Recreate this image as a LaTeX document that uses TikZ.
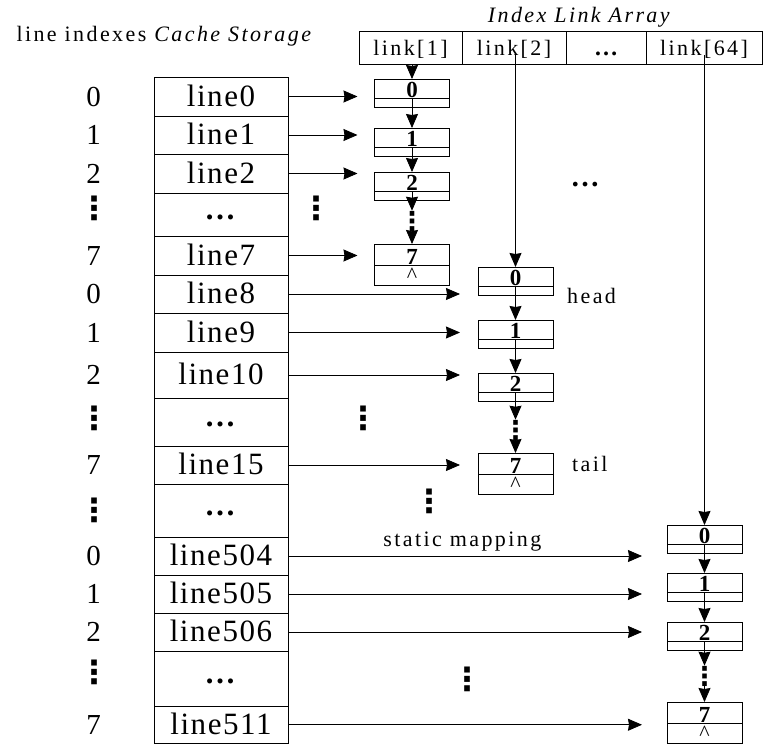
\documentclass[tikz,border=0pt]{standalone}
\usepackage{fontspec}
\setmainfont{Liberation Serif}
\newfontfamily\wide[LetterSpace=11]{Liberation Serif}
\newfontfamily\semi[LetterSpace=5]{Liberation Serif}
\newfontfamily\dvs{DejaVu Sans}
\usetikzlibrary{arrows.meta, positioning}

\newcommand{\vdts}{{\dvs\bfseries ⋮}}
\newcommand{\hdts}{\textbf{…}}

\begin{document}
\begin{tikzpicture}[
    x=1pt, y=-1pt,
    cacherow/.style={
        draw,
        line width=0.8pt,
        minimum width=134,
        minimum height=#1,
        inner sep=0pt,
        outer sep=0pt,
        text height=22pt,
        text depth=3pt,
        font=\fontsize{31}{33}\semi
    },
    idx/.style={inner sep=0pt, text height=22pt, text depth=3pt, font=\fontsize{29}{31}\selectfont},
    linkcell/.style={
        draw,
        line width=0.8pt,
        minimum width=#1,
        minimum height=33,
        inner sep=0pt,
        outer sep=0pt,
        text height=17pt,
        text depth=2pt,
        font=\fontsize{22}{24}\wide
    },
    elem/.style={
        draw,
        line width=0.8pt,
        minimum width=75,
        minimum height=19,
        inner sep=0pt,
        outer sep=0pt,
        text height=17pt,
        text depth=0pt,
        font=\fontsize{23}{24}\selectfont\bfseries
    },
    tailtop/.style={elem, minimum height=21, text height=19pt},
    nxt/.style={draw, line width=0.8pt, minimum width=75, minimum height=9.5, inner sep=0pt, outer sep=0pt},
    nil/.style={nxt, minimum height=20, font=\fontsize{22}{22}\selectfont},
    vdot/.style={inner sep=0pt, font=\fontsize{32}{32}\selectfont},
    vdotsm/.style={inner sep=0pt, font=\fontsize{26}{26}\selectfont},
    hdot/.style={inner sep=0pt, font=\fontsize{29}{29}\selectfont},
    lbl/.style={inner sep=0pt, font=\fontsize{22}{24}\wide},
    arrow/.style={-{Stealth[length=14pt, width=12pt, inset=1pt]}, line width=0.8pt}
]
\useasboundingbox (0,0) rectangle (764,744);

% Titles
\node[lbl] (cachetitle) at (165,36) {line indexes \textit{Cache Storage}};
\node[lbl] (linktitle) at (580,17) {\textit{Index Link Array}};

% Index link array
\node[linkcell=103] (lk1) at (410.5,47.5) {link[1]};
\node[linkcell=104, right=0pt of lk1] (lk2) {link[2]};
\node[linkcell=80, right=0pt of lk2, font=\fontsize{24}{24}\selectfont] (lkd) {\hdts};
\node[linkcell=116, right=0pt of lkd] (lk64) {link[64]};

% Cache storage
\node[cacherow=39] (r0) at (221,96.5) {line0};
\node[cacherow=38, below=0pt of r0] (r1) {line1};
\node[cacherow=39, below=0pt of r1] (r2) {line2};
\node[cacherow=43, below=0pt of r2] (rd1) {\raisebox{5pt}{\hdts}};
\node[cacherow=39, below=0pt of rd1] (r7) {line7};
\node[cacherow=38, below=0pt of r7] (r8) {line8};
\node[cacherow=39, below=0pt of r8] (r9) {line9};
\node[cacherow=46, below=0pt of r9] (r10) {line10};
\node[cacherow=48, below=0pt of r10] (rd2) {\raisebox{5pt}{\hdts}};
\node[cacherow=38, below=0pt of rd2] (r15) {line15};
\node[cacherow=53, below=0pt of r15] (rd3) {\raisebox{5pt}{\hdts}};
\node[cacherow=38, below=0pt of rd3] (r504) {line504};
\node[cacherow=38, below=0pt of r504] (r505) {line505};
\node[cacherow=38, below=0pt of r505] (r506) {line506};
\node[cacherow=55, below=0pt of r506] (rd4) {\raisebox{5pt}{\hdts}};
\node[cacherow=37.5, below=0pt of rd4] (r511) {line511};

% Line indexes
\node[idx, left=53pt of r0] (i0) {0};
\node[idx, left=53pt of r1] (i1) {1};
\node[idx, left=53pt of r2] (i2) {2};
\node[vdot] (id1) at (94,208) {\vdts};
\node[idx, left=53pt of r7] (i7) {7};
\node[idx, left=53pt of r8] (i8) {0};
\node[idx, left=53pt of r9] (i9) {1};
\node[idx, left=53pt of r10] (i10) {2};
\node[vdot] (id2) at (94,418) {\vdts};
\node[idx, left=53pt of r15] (i15) {7};
\node[vdot] (id3) at (94,510) {\vdts};
\node[idx, left=53pt of r504] (i504) {0};
\node[idx, left=53pt of r505] (i505) {1};
\node[idx, left=53pt of r506] (i506) {2};
\node[vdot] (id4) at (94,672) {\vdts};
\node[idx, left=53pt of r511] (i511) {7};

% List of link[1]
\node[elem] (la0) at (412,88.5) {0};
\node[nxt, below=0pt of la0] (la0n) {};
\node[elem] (la1) at (412,137.5) {1};
\node[nxt, below=0pt of la1] (la1n) {};
\node[elem] (la2) at (412,181.5) {2};
\node[nxt, below=0pt of la2] (la2n) {};
\node[vdotsm] (lad) at (412,221) {\vdts};
\node[tailtop] (la7) at (412,254.5) {7};
\node[nil, below=0pt of la7] (la7n) {\textasciicircum};

% List of link[2]
\node[elem] (lb0) at (515.5,276.5) {0};
\node[nxt, below=0pt of lb0] (lb0n) {};
\node[elem] (lb1) at (515.5,329.5) {1};
\node[nxt, below=0pt of lb1] (lb1n) {};
\node[elem] (lb2) at (515.5,382.5) {2};
\node[nxt, below=0pt of lb2] (lb2n) {};
\node[vdotsm] (lbd) at (515.5,430) {\vdts};
\node[tailtop] (lb7) at (515.5,463.5) {7};
\node[nil, below=0pt of lb7] (lb7n) {\textasciicircum};
\node[lbl, right=14pt of lb0n.south east] (head) {head};
\node[lbl, right=19pt of lb7.east] (tail) {tail};

% List of link[64]
\node[elem] (lc0) at (704.5,534.5) {0};
\node[nxt, below=0pt of lc0] (lc0n) {};
\node[elem] (lc1) at (704.5,582.5) {1};
\node[nxt, below=0pt of lc1] (lc1n) {};
\node[elem] (lc2) at (704.5,631.5) {2};
\node[nxt, below=0pt of lc2] (lc2n) {};
\node[vdotsm] (lcd) at (704.5,676) {\vdts};
\node[tailtop] (lc7) at (704.5,712.5) {7};
\node[nil, below=0pt of lc7] (lc7n) {\textasciicircum};

% Dots between the mappings
\node[vdot] (md1) at (316,208) {\vdts};
\node[vdot] (md2) at (363,418) {\vdts};
\node[vdot] (md3) at (429,501) {\vdts};
\node[vdot] (md4) at (467,679) {\vdts};
\node[hdot] (md5) at (585,185) {\hdts};

% Links into the lists
\draw[arrow] (la0.north |- lk1.south) -- (la0.north);
\draw[arrow] (lb0.north |- lk2.base) -- (lb0.north);
\draw[arrow] (lc0.north |- lk64.base) -- (lc0.north);

% Next pointers
\draw[arrow] (la0n.north) -- (la1.north);
\draw[arrow] (la1n.north) -- (la2.north);
\draw[arrow] (la2n.north) -- (lad.north);
\draw[arrow] (lad.south) -- (la7.north);
\draw[arrow] (lb0n.north) -- (lb1.north);
\draw[arrow] (lb1n.north) -- (lb2.north);
\draw[arrow] (lb2n.north) -- (lbd.north);
\draw[arrow] (lbd.south) -- (lb7.north);
\draw[arrow] (lc0n.north) -- (lc1.north);
\draw[arrow] (lc1n.north) -- (lc2.north);
\draw[arrow] (lc2n.north) -- (lcd.north);
\draw[arrow] (lcd.south) -- (lc7.north);

% Static mapping from cache lines
\draw[arrow, shorten >=17pt] (r0.east) -- (r0.east -| la0.west);
\draw[arrow, shorten >=17pt] (r1.east) -- (r1.east -| la0.west);
\draw[arrow, shorten >=17pt] (r2.east) -- (r2.east -| la0.west);
\draw[arrow, shorten >=17pt] (r7.east) -- (r7.east -| la0.west);
\draw[arrow, shorten >=18pt] (r8.east) -- (r8.east -| lb0.west);
\draw[arrow, shorten >=18pt] (r9.east) -- (r9.east -| lb0.west);
\draw[arrow, shorten >=18pt] (r10.east) -- (r10.east -| lb0.west);
\draw[arrow, shorten >=18pt] (r15.east) -- (r15.east -| lb0.west);
\draw[arrow, shorten >=25pt] (r504.east) -- node[lbl, pos=0.46, above=4pt] {static mapping} (r504.east -| lc0.west);
\draw[arrow, shorten >=25pt] (r505.east) -- (r505.east -| lc0.west);
\draw[arrow, shorten >=25pt] (r506.east) -- (r506.east -| lc0.west);
\draw[arrow, shorten >=25pt] (r511.east) -- (r511.east -| lc0.west);

\end{tikzpicture}
\end{document}
